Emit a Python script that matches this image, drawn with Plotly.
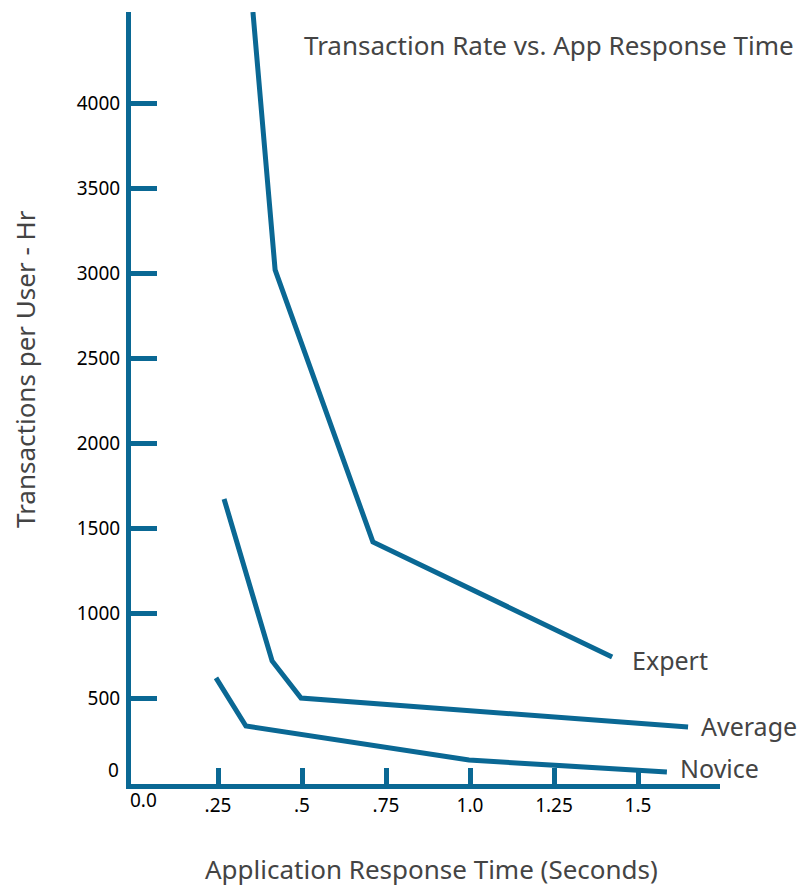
import plotly.graph_objects as go

# Data
expert_x = [0.354, 0.420, 0.711, 1.423]
expert_y = [4535, 3018, 1418, 741]
average_x = [0.268, 0.411, 0.497, 1.649]
average_y = [1671, 718, 500, 329]
novice_x = [0.244, 0.333, 0.997, 1.586]
novice_y = [618, 335, 135, 65]

x_tick_vals = [0.25, 0.5, 0.75, 1.0, 1.25, 1.5]
x_tick_text = [".25", ".5", ".75", "1.0", "1.25", "1.5"]
y_tick_vals = [500, 1000, 1500, 2000, 2500, 3000, 3500, 4000]
y_tick_text = ["500", "1000", "1500", "2000", "2500", "3000", "3500", "4000"]

series_names = ["Expert", "Average", "Novice"]

BLUE = "#0a6894"
TEXT = "#444444"
FONT = "Noto Sans"

# body margin is removed by a post script, so work directly in screen pixels
W, H = 800, 888

fig = go.Figure()
for xs, ys, name in [(expert_x, expert_y, "Expert"),
                     (average_x, average_y, "Average"),
                     (novice_x, novice_y, "Novice")]:
    fig.add_trace(go.Scatter(x=xs, y=ys, mode="lines", name=name,
                             line=dict(color=BLUE, width=5),
                             showlegend=False, hoverinfo="x+y+name"))

# screen-pixel frame of the plot area
SL, SR, ST, SB = 131, 720, 12, 784
L, T, R, B = SL, ST, W - SR, H - SB
# x: 0 at screen px 134, 336 px per unit; y: 0 at screen px 783, 0.17 px per unit
x0 = (SL - 134) / 336
x1 = (SR - 134) / 336
y0 = (783 - SB) / 0.17
y1 = (783 - ST) / 0.17

fig.update_layout(
    width=W, height=H,
    margin=dict(l=L, r=R, t=T, b=B),
    plot_bgcolor="white", paper_bgcolor="white",
    font=dict(family=FONT, color="black", size=19),
    xaxis=dict(range=[x0, x1], showgrid=False, zeroline=False,
               showline=True, linecolor=BLUE, linewidth=5,
               ticks="inside", ticklen=16, tickwidth=5, tickcolor=BLUE,
               tickvals=x_tick_vals, ticktext=x_tick_text,
               tickfont=dict(size=19, color="black", family=FONT),
               ticklabelstandoff=0),
    yaxis=dict(range=[y0, y1], showgrid=False, zeroline=False,
               showline=True, linecolor=BLUE, linewidth=5,
               ticks="inside", ticklen=26, tickwidth=5, tickcolor=BLUE,
               tickvals=y_tick_vals, ticktext=y_tick_text,
               tickfont=dict(size=19, color="black", family=FONT),
               ticklabelstandoff=2),
)

pw, ph = W - L - R, H - T - B


def px(sx):
    return (sx - L) / pw


def py(sy):
    return (H - B - sy) / ph


ann = []
ann.append(dict(text="0.0", x=px(143), y=py(800), xanchor="center", yanchor="middle",
                font=dict(size=19, color="black", family=FONT)))
ann.append(dict(text="0", x=px(121), y=py(770), xanchor="right", yanchor="middle",
                font=dict(size=19, color="black", family=FONT)))
ann.append(dict(text="Transaction Rate vs. App Response Time", x=px(549), y=py(45),
                xanchor="center", yanchor="middle",
                font=dict(size=26, color=TEXT, family=FONT)))
ann.append(dict(text="Application Response Time (Seconds)", x=px(431), y=py(869),
                xanchor="center", yanchor="middle",
                font=dict(size=26, color=TEXT, family=FONT)))
ann.append(dict(text="Transactions per User - Hr", x=px(25), y=py(369), textangle=-90,
                xanchor="center", yanchor="middle",
                font=dict(size=26, color=TEXT, family=FONT)))
for name, sx, sy in zip(series_names, [630, 699, 678], [660, 726, 768]):
    ann.append(dict(text=name, x=px(sx), y=py(sy), xanchor="left", yanchor="middle",
                    font=dict(size=25, color=TEXT, family=FONT)))

for a in ann:
    a.update(xref="paper", yref="paper", showarrow=False)
fig.update_layout(annotations=ann)

fig.write_html("out.html",
               config={"displayModeBar": False},
               post_script="document.body.style.margin='0';document.body.style.overflow='hidden';")
